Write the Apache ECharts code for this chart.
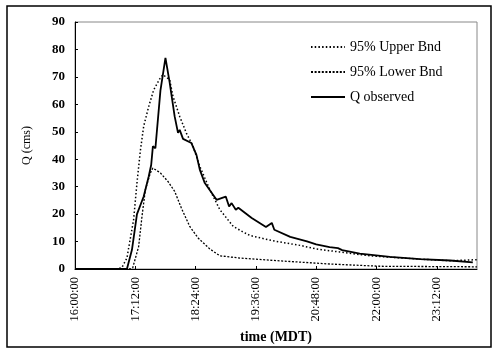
<!DOCTYPE html>
<html>
<head>
<meta charset="utf-8">
<script src="https://cdn.jsdelivr.net/npm/echarts@6/dist/echarts.min.js"></script>
<style>
  html, body { margin: 0; padding: 0; background: #fff; }
  #chart { width: 493px; height: 349px; }
</style>
</head>
<body>
<div id="chart"></div>
<script>
// times as HH:MM after 16:00, values in cms
const obsTimes = ['16:00', '17:02', '17:08', '17:14', '17:22', '17:28', '17:31', '17:33', '17:36', '17:42', '17:48', '17:53', '17:59', '18:03', '18:05', '18:09', '18:19', '18:25', '18:29', '18:35', '18:49', '19:00', '19:04', '19:07', '19:12', '19:15', '19:31', '19:48', '19:55', '19:58', '20:17', '20:37', '20:48', '21:04', '21:14', '21:19', '21:40', '22:16', '22:52', '23:28', '23:55']
const obsValues = [0, 0, 7, 20, 26.4, 33.7, 38, 44.7, 44, 65, 76.9, 68, 55.6, 49.6, 50.7, 47.4, 45.9, 41.6, 36.2, 31.3, 25.2, 26.4, 22.8, 24, 21.6, 22.3, 18.6, 15.3, 16.8, 14.3, 11.7, 10.1, 9.0, 8.0, 7.6, 6.9, 5.6, 4.4, 3.6, 3.1, 2.4]

const upperTimes = ['16:00', '16:50', '16:56', '17:02', '17:10', '17:14', '17:18', '17:22', '17:28', '17:34', '17:41', '17:45', '17:53', '17:57', '18:05', '18:13', '18:21', '18:29', '18:41', '18:53', '19:09', '19:20', '19:29', '19:56', '20:29', '20:48', '21:16', '21:52', '22:52', '23:28', '24:00']
const upperValues = [0, 0, 0.5, 4, 18, 31.4, 43, 52, 59.2, 65.3, 69.2, 70.8, 69, 62.9, 55.6, 49.5, 44.7, 37.4, 28.9, 21.6, 15.5, 13.6, 12.2, 10.3, 8.6, 7.3, 6.2, 4.8, 3.6, 3.0, 3.4]

const lowerTimes = ['16:00', '17:06', '17:09', '17:16', '17:20', '17:24', '17:30', '17:33', '17:42', '17:51', '17:59', '18:07', '18:17', '18:27', '18:41', '18:53', '19:17', '19:53', '20:29', '21:05', '22:04', '24:00']
const lowerValues = [0, 0, 0.5, 8.2, 19.2, 28.9, 35, 36.8, 35, 31.9, 28.3, 22.2, 15.5, 11.3, 7.3, 4.8, 4.0, 3.2, 2.5, 1.8, 1.0, 0.8]

const toMin = (t) => {
  const [h, m] = t.split(':').map(Number)
  return (h - 16) * 60 + m
}
const pair = (times, values) => times.map((t, i) => [toMin(t), values[i]])

const fmtTime = (v) => {
  const h = 16 + Math.floor(v / 60)
  const m = v % 60
  return h + ':' + String(m).padStart(2, '0') + ':00'
}

const serif = '"Liberation Serif", "DejaVu Serif", serif'

const chart = echarts.init(document.getElementById('chart'))
chart.setOption({
  animation: false,
  backgroundColor: '#fff',
  textStyle: { fontFamily: serif, color: '#000' },
  graphic: [
    {
      type: 'rect',
      shape: { x: 7, y: 6, width: 484, height: 341 },
      style: { fill: 'none', stroke: '#000', lineWidth: 1.5 }
    }
  ],
  grid: {
    left: 75, right: 16, top: 22, bottom: 80,
    show: true,
    borderColor: '#888',
    borderWidth: 1
  },
  legend: {
    orient: 'vertical',
    left: 305,
    top: 35,
    itemGap: 11,
    itemWidth: 34,
    itemHeight: 14,
    itemStyle: { opacity: 0 },
    textStyle: { fontFamily: serif, fontSize: 14, color: '#000' },
    data: ['95% Upper Bnd', '95% Lower Bnd', 'Q observed']
  },
  xAxis: {
    type: 'value',
    min: 0,
    max: 480,
    interval: 72,
    name: 'time (MDT)',
    nameLocation: 'middle',
    nameGap: 61,
    nameTextStyle: { fontFamily: serif, fontSize: 14, fontWeight: 'bold', color: '#000' },
    axisLine: { lineStyle: { color: '#000', width: 1 } },
    axisTick: { inside: true, length: 3, lineStyle: { color: '#000' } },
    axisLabel: {
      rotate: 90,
      showMaxLabel: false,
      margin: 8,
      fontSize: 12.5,
      color: '#000',
      fontFamily: serif,
      formatter: fmtTime
    },
    splitLine: { show: false }
  },
  yAxis: {
    type: 'value',
    min: 0,
    max: 90,
    interval: 10,
    name: 'Q (cms)',
    nameLocation: 'middle',
    nameGap: 42,
    nameTextStyle: { fontFamily: serif, fontSize: 12, color: '#000' },
    axisLine: { show: true, lineStyle: { color: '#000', width: 1 } },
    axisTick: { show: true, inside: true, length: 3, lineStyle: { color: '#000' } },
    axisLabel: { fontSize: 13, fontWeight: 'bold', color: '#000', fontFamily: serif, margin: 10 },
    splitLine: { show: false }
  },
  series: [
    {
      name: '95% Upper Bnd',
      type: 'line',
      symbol: 'none',
      data: pair(upperTimes, upperValues),
      lineStyle: { color: '#000', width: 1.5, type: [1.5, 2.2] },
      itemStyle: { color: '#000' }
    },
    {
      name: '95% Lower Bnd',
      type: 'line',
      symbol: 'none',
      data: pair(lowerTimes, lowerValues),
      lineStyle: { color: '#000', width: 1.3, type: [2, 1.6] },
      itemStyle: { color: '#000' }
    },
    {
      name: 'Q observed',
      type: 'line',
      symbol: 'none',
      data: pair(obsTimes, obsValues),
      lineStyle: { color: '#000', width: 1.8 },
      itemStyle: { color: '#000' }
    }
  ]
})
</script>
</body>
</html>
